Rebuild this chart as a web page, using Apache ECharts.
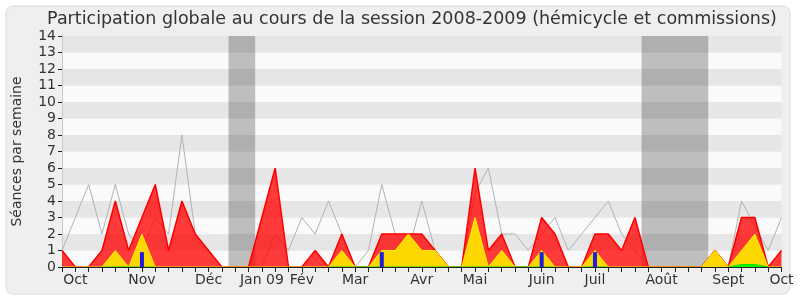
<!DOCTYPE html>
<html><head><meta charset="utf-8">
<script src="https://cdn.jsdelivr.net/npm/echarts@6/dist/echarts.min.js"></script>
<style>html,body{margin:0;padding:0;background:#fff}#c{width:800px;height:300px}</style>
</head><body><div id="c"></div>
<script>
// 55 weeks (index 0..54), session 2008-2009
const weekLabels = ['', 'Oct', '', '', '', '', 'Nov', '', '', '', '', 'Déc', '', '', '', 'Jan 09', '', '', 'Fév', '', '', '', 'Mar', '', '', '', '', 'Avr', '', '', '', 'Mai', '', '', '', '', 'Juin', '', '', '', 'Juil', '', '', '', '', 'Août', '', '', '', '', 'Sept', '', '', '', 'Oct'];
// red: présences (hémicycle + commissions)
const presences = [1,0,0,1,4,1,3,5,1,4, 2,1,0,0,0,3,6,0,0,1, 0,2,0,0,2,2,2,2,1,0, 0,6,1,2,0,0,3,2,0,0, 2,2,1,3,0,0,0,0,0,1, 0,3,3,0,1];
// yellow: participations
const participations = [0,0,0,0,1,0,2,0,0,0, 0,0,0,0,0,0,0,0,0,0, 0,1,0,0,1,1,2,1,1,0, 0,3,0,1,0,0,1,0,0,0, 1,0,0,0,0,0,0,0,0,1, 0,1,2,0,0];
// blue: questions orales
const questions = [null,null,null,null,null,null,0.9,null,null,null, null,null,null,null,null,null,null,null,null,null, null,null,null,null,0.9,null,null,null,null,null, null,null,null,null,null,null,0.9,null,null,null, 0.9,null,null,null,null,null,null,null,null,null, null,null,null,null,null];
// green: interventions longues
const interventions = [null,null,null,0,0,0,0,0,null,null, null,null,null,null,null,null,null,null,null,null, 0,0,0,0,0,0,0,0,0,0, 0,0,0,0,0,0,0,0,null,0, 0,0,null,null,null,null,null,null,null,null, 0,0.15,0.15,0,null];
// grey: médiane des députés
const mediane = [1,3,5,2,5,2,1,3,2,8, 2,1,0,0,0,0,2,1,3,2, 4,2,0,1,5,2,1,4,1,0, 0,4.5,6,2,2,1,2,3,1,2, 3,4,2,1,0,0,0,0,0,0, 0,4,2.5,1,3];
// vacances parlementaires (week index ranges)
const vacances = [[12.5, 14.5], [43.5, 48.5]];

const pts = arr => arr.map((v, i) => [i, v]);
const FONT = 'DejaVu Sans';

const chart = echarts.init(document.getElementById('c'), null, {renderer: 'canvas'});
chart.setOption({
  animation: false,
  backgroundColor: '#ffffff',
  graphic: [{
    type: 'rect', z: -100, silent: true,
    shape: {x: 6, y: 6, width: 784, height: 288, r: 7},
    style: {fill: '#EFEFEF', stroke: '#DADADA', lineWidth: 1}
  }],
  title: {
    text: 'Participation globale au cours de la session 2008-2009 (hémicycle et commissions)',
    left: 407, top: 5, textAlign: 'center',
    textStyle: {fontFamily: FONT, fontSize: 17.5, fontWeight: 'normal', color: '#333'}
  },
  grid: {left: 62, right: 18.5, top: 36, bottom: 33},
  xAxis: [{
    type: 'value', min: 0, max: 54, interval: 1, position: 'bottom', z: 10,
    axisLine: {show: true, onZero: false, lineStyle: {color: '#222', width: 1}},
    axisTick: {show: true, length: 5, lineStyle: {color: '#222'}},
    axisLabel: {show: true, interval: 0, margin: 6, fontFamily: FONT, fontSize: 14, color: '#333',
      formatter: v => weekLabels[Math.round(v)] || ''},
    splitLine: {show: false}
  }, {
    type: 'value', min: 0, max: 54, interval: 1, position: 'top', z: 10,
    axisLine: {show: false},
    axisTick: {show: true, inside: true, length: 2, lineStyle: {color: '#222'}},
    axisLabel: {show: false},
    splitLine: {show: false}
  }],
  yAxis: [{
    type: 'value', min: 0, max: 14, interval: 1,
    name: 'Séances par semaine', nameLocation: 'middle', nameGap: 38, nameRotate: 90,
    nameTextStyle: {fontFamily: FONT, fontSize: 14, color: '#333'},
    axisLine: {show: true, lineStyle: {color: '#222'}},
    axisTick: {show: true, length: 4, lineStyle: {color: '#222'}},
    axisLabel: {fontFamily: FONT, fontSize: 14, color: '#333', margin: 6},
    splitLine: {show: false},
    splitArea: {show: true, areaStyle: {color: ['#FAFAFA', '#E6E6E6']}}
  }, {
    type: 'value', min: 0, max: 14, interval: 1, position: 'right',
    axisLine: {show: true, lineStyle: {color: '#C8C8C8'}},
    axisTick: {show: false}, axisLabel: {show: false}, splitLine: {show: false}
  }],
  series: [{
    name: 'Médiane', type: 'line', data: pts(mediane), symbol: 'none',
    lineStyle: {color: '#B2B2B2', width: 1}, z: 1,
    markArea: {silent: true, itemStyle: {color: 'rgba(0,0,0,0.24)'},
      data: vacances.map(r => [{xAxis: r[0]}, {xAxis: r[1]}])}
  }, {
    name: 'Présences', type: 'line', data: pts(presences), symbol: 'none', z: 2,
    lineStyle: {color: '#FF0000', width: 1.5},
    areaStyle: {color: 'rgba(255,0,0,0.77)', opacity: 1}
  }, {
    name: 'Participations', type: 'line', data: pts(participations), symbol: 'none', z: 3,
    lineStyle: {color: '#FFEE00', width: 1},
    areaStyle: {color: '#FFD700', opacity: 1}
  }, {
    name: 'Interventions', type: 'line', data: pts(interventions), symbol: 'none', z: 4,
    lineStyle: {color: '#00E000', width: 1},
    areaStyle: {color: '#00FF00', opacity: 1}
  }, {
    name: 'Questions', type: 'bar', data: pts(questions), barWidth: 4, z: 5,
    itemStyle: {color: '#1E1EDC'}
  }]
});
</script>
</body></html>
